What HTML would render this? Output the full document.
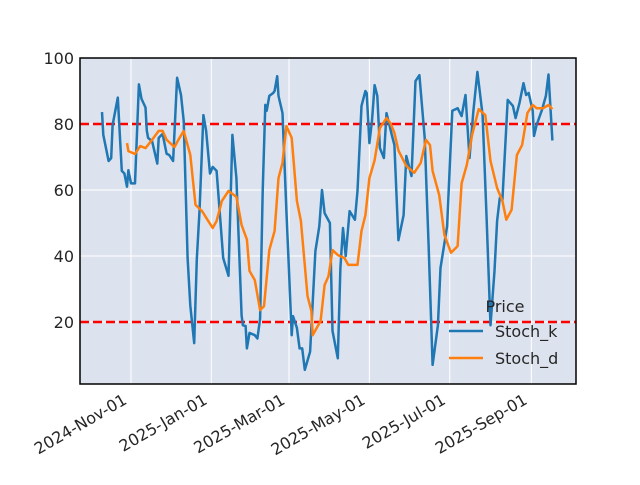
<!DOCTYPE html>
<html><head><meta charset="utf-8"><style>
body{margin:0;background:#fff;width:640px;height:480px;overflow:hidden}
svg text{font-family:"DejaVu Sans","Liberation Sans",sans-serif;fill:#262626}
</style></head><body>
<svg id="chart" width="640" height="480">
<rect x="80" y="58" width="496" height="326" fill="#dde3ee"/>
<g id="grid"></g><g id="refs"></g><g id="series"></g><g id="axes"></g>
<rect x="80" y="58" width="496" height="326" fill="none" stroke="#000" stroke-width="1.5"/>
<g>
<text x="505" y="312" font-size="16" text-anchor="middle">Price</text>
<line x1="449" y1="331" x2="483" y2="331" stroke="#1f77b4" stroke-width="2.5"/>
<text x="495" y="337" font-size="16">Stoch_k</text>
<line x1="449" y1="358" x2="483" y2="358" stroke="#ff7f0e" stroke-width="2.5"/>
<text x="495" y="364" font-size="16">Stoch_d</text>
</g>
</svg>
<script>
// days since 2024-11-01
const kDays=[-22,-21,-17,-15,-14,-10,-7,-5,-3,-2,0,3,6,8,11,12,13,16,20,21,24,27,29,32,35,38,40,43,45,48,50,52,55,57,60,62,65,70,74,77,80,84,85,87,88,90,94,96,98,100,102,103,105,108,109,111,112,115,118,120,122,123,126,128,130,132,136,140,143,145,147,151,153,157,159,161,163,166,170,172,175,178,179,181,183,185,187,189,192,194,198,200,203,207,209,213,216,219,223,226,229,233,235,240,242,244,248,251,254,257,260,263,267,270,273,276,278,280,282,286,290,292,295,298,300,302,305,306,308,312,315,317,320];
const kValues=[83.6,76.7,68.8,69.7,79.7,88,65.8,65,61,66,62,62,92,87.6,85,78,75.8,74.8,68,75.8,77,71,70.6,68.8,94,88.8,81,39.4,25,13.6,39,53.6,82.7,78,65,67,65.8,39.4,34,76.7,63.6,22,19,18.8,12,16.7,16,15,21,59.7,85.8,84,88.5,89.4,90,94.5,88.5,83.3,53.6,35.5,16,21.8,18.2,12,12,5.5,11,41.5,49,60,53,50,17.3,9,36.4,48.5,40,53.6,51,59.7,85.5,90,89.4,74.2,81,91.8,88.5,72.7,69.7,83.3,76.7,73.6,44.8,52.4,70.3,64.2,93,94.8,75.8,43.3,7,19,36.4,49,66.7,84,84.8,82.4,88.8,69.7,84,95.8,82.7,51.5,19,35.5,50.6,57.6,57,87.3,85.5,81.8,86.4,92.4,88.8,89.4,84,76.4,79.7,84.2,88.5,95,75];
const dDays=[-3,-2,3,7,11,16,21,24,27,33,36,40,45,49,54,58,62,65,69,74,80,84,88,90,94,98,101,105,109,112,115,118,122,126,129,134,137,138,144,147,150,153,157,162,165,172,175,178,181,185,189,194,197,200,203,209,215,220,224,227,229,234,238,243,248,251,255,259,264,269,273,278,282,285,289,293,297,301,305,308,313,317,320];
const dValues=[74.2,71.8,70.9,73.3,72.7,75.2,77.9,77.9,75.2,73,75.2,77.9,70.6,55.5,53.6,51,48.5,50.6,56.7,59.7,57.9,49.4,45,35.5,32.7,23.6,24.8,41.8,47.6,63.6,68.2,79.4,75.8,56.7,50.6,27.9,23.3,16,20.3,31.2,33.9,41.8,40.3,39.4,37.3,37.3,47.6,52.4,63.6,69,78.8,81.8,80.3,77.3,72,67.3,65.2,68.2,75.2,73.6,65.8,58.5,46.4,41,43,62,67.6,76.7,84.5,82.7,68.8,60.6,56.7,51,54,70.6,73.6,83.3,85.8,84.8,84.8,85.8,84.5];
const yTicks=[20,40,60,80,100];
const xTickDays=[0,61,120,181,242,304];
const xTickLabels=["2024-Nov-01","2025-Jan-01","2025-Mar-01","2025-May-01","2025-Jul-01","2025-Sep-01"];
const refLevels=[80,20];

const NS="http://www.w3.org/2000/svg";
const X=d=>131+d*1.317;
const Y=v=>388-v*3.3;
function mk(tag,attrs,parent){const e=document.createElementNS(NS,tag);for(const k in attrs)e.setAttribute(k,attrs[k]);parent.appendChild(e);return e;}
const grid=document.getElementById('grid'),axes=document.getElementById('axes'),refs=document.getElementById('refs'),series=document.getElementById('series');
yTicks.forEach(v=>{
  const l=mk('line',{x1:80,x2:576,y1:Y(v),y2:Y(v),stroke:'#fff','stroke-width':1},grid);
  
  
  const t=mk('text',{x:74,y:Y(v)+6,'font-size':16,'text-anchor':'end'},axes);
  t.textContent=v;
  
  
});
xTickDays.forEach((d,i)=>{
  const x=X(d);
  const l=mk('line',{x1:x,x2:x,y1:58,y2:384,stroke:'#fff','stroke-width':1},grid);
  
  
  const tx=x-3, ty=403;
  const t=mk('text',{x:tx,y:ty,'font-size':16,'text-anchor':'end',transform:`rotate(-30 ${tx} ${ty})`},axes);
  t.textContent=xTickLabels[i];
  
  
});
refLevels.forEach(v=>{
  const l=mk('line',{x1:80,x2:576,y1:Y(v),y2:Y(v),stroke:'#ff0000','stroke-width':2.5,'stroke-dasharray':'9,4'},refs);
  
  
});
function path(days,vals,color,name){
  const d=days.map((t,i)=>(i?'L':'M')+X(t).toFixed(1)+','+Y(vals[i]).toFixed(1)).join('');
  const p=mk('path',{d:d,fill:'none',stroke:color,'stroke-width':2.5,'stroke-linejoin':'round'},series);
  
  
}
path(kDays,kValues,'#1f77b4','stoch-k-line');
path(dDays,dValues,'#ff7f0e','stoch-d-line');
</script>
</body></html>
